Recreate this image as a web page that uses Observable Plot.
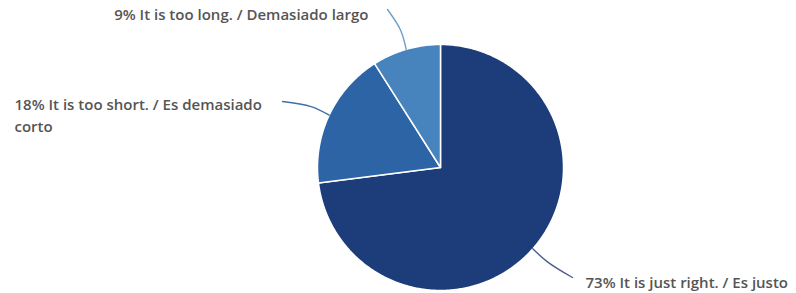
<!DOCTYPE html>
<html><head><meta charset="utf-8">
<script src="https://cdn.jsdelivr.net/npm/d3@7"></script>
<script src="https://cdn.jsdelivr.net/npm/@observablehq/plot@0.6"></script>
<style>body{margin:0;background:#fff}</style>
</head><body><div id="chart"></div>
<script>
// ---- data ----
const categories = ["It is just right. / Es justo", "It is too short. / Es demasiado corto", "It is too long. / Demasiado largo"];
const percents = [73, 18, 9];
const colors = ["#1c3d7a", "#2c64a6", "#4784be"];
const lineColors = ["#4b6088", "#3f70aa", "#6c9fcb"];

// ---- layout ----
const W = 796, H = 293, cx = 440, cy = 167, R = 123;
const layout = [
  {elbow: 20, end: [572, 277], tx: 585, ty: 280, anchor: "start", lw: 30},
  {elbow: 20, end: [282, 101], tx: 14, ty: 113.5, anchor: "start", lw: 17},
  {elbow: 20, end: [387, 9], tx: 368, ty: 12.5, anchor: "end", lw: 30}
];

const arcs = d3.pie().sort(null).value(d => d.value)(
  categories.map((c, i) => ({name: c, value: percents[i], i}))
);

const slicePts = [];
arcs.forEach(a => {
  const k = a.data.i;
  slicePts.push({k, x: cx, y: cy});
  const n = Math.max(2, Math.ceil((a.endAngle - a.startAngle) / 0.01));
  for (let j = 0; j <= n; j++) {
    const t = a.startAngle + (a.endAngle - a.startAngle) * j / n;
    slicePts.push({k, x: cx + R * Math.sin(t), y: cy - R * Math.cos(t)});
  }
  slicePts.push({k, x: cx, y: cy});
});

const leaderPts = [];
const labels = [];
arcs.forEach(a => {
  const k = a.data.i, L = layout[k];
  const m = (a.startAngle + a.endAngle) / 2;
  leaderPts.push({k, x: cx + R * Math.sin(m), y: cy - R * Math.cos(m)});
  leaderPts.push({k, x: cx + (R + L.elbow) * Math.sin(m), y: cy - (R + L.elbow) * Math.cos(m)});
  leaderPts.push({k, x: L.end[0], y: L.end[1]});
  labels.push({k, x: L.tx, y: L.ty, text: `${percents[k]}% ${categories[k]}`});
});

const textMark = k => Plot.text(labels.filter(d => d.k === k), {
  x: "x", y: "y", text: "text", textAnchor: layout[k].anchor, lineAnchor: "middle",
  lineWidth: layout[k].lw, lineHeight: 1.47,
  fill: "#555", fontSize: 15, fontWeight: 600, fontFamily: "Open Sans"
});

const chart = Plot.plot({
  width: W, height: H, margin: 0,
  x: {domain: [0, W], range: [0, W], axis: null},
  y: {domain: [0, H], range: [0, H], axis: null},
  style: {background: "#fff"},
  marks: [
    Plot.line(slicePts, {x: "x", y: "y", z: "k", fill: d => colors[d.k], stroke: "#fff", strokeWidth: 1.5, strokeLinejoin: "round", curve: "linear"}),
    Plot.line(leaderPts, {x: "x", y: "y", z: "k", stroke: d => lineColors[d.k], strokeWidth: 1.4, curve: "catmull-rom"}),
    textMark(0), textMark(1), textMark(2)
  ]
});
document.getElementById("chart").append(chart);
</script>
</body></html>
